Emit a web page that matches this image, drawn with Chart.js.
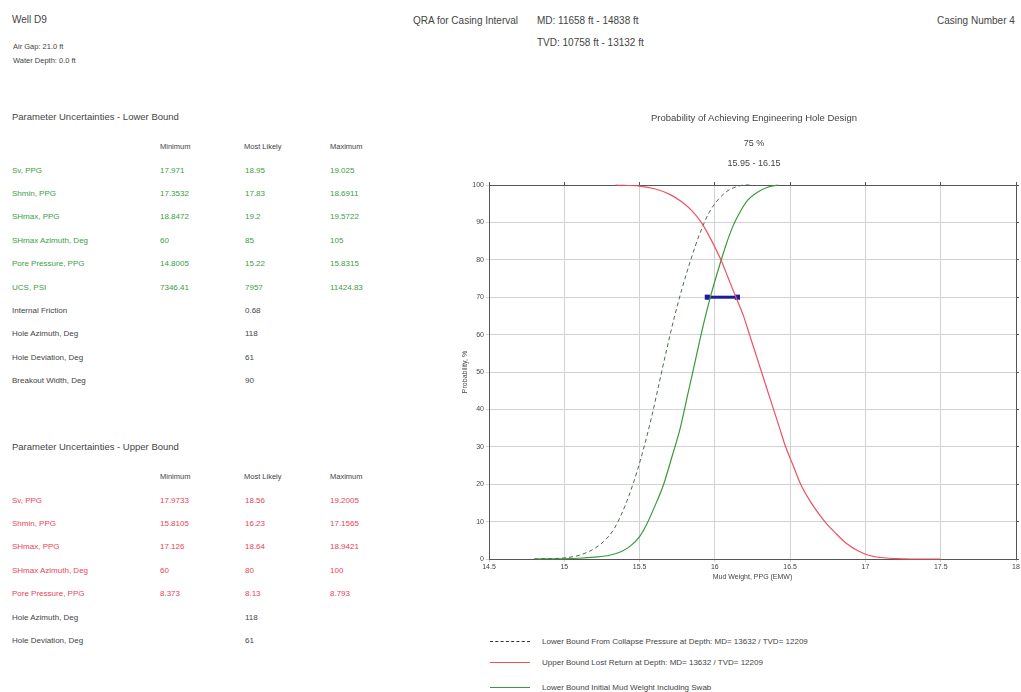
<!DOCTYPE html>
<html>
<head>
<meta charset="utf-8">
<script src="https://cdn.jsdelivr.net/npm/chart.js@4.4.1/dist/chart.umd.min.js"></script>
<style>
  html, body { margin: 0; padding: 0; background: #fff; }
  body { width: 1021px; height: 692px; position: relative; overflow: hidden; font-family: "Liberation Sans", Arial, sans-serif; color: #444; }
  .t { position: absolute; white-space: nowrap; line-height: 1; transform: translateY(-50%); }
  .c { transform: translate(-50%, -50%); }
  #wrap { position: absolute; left: 440px; top: 100px; }
  .lg { position: absolute; left: 490px; width: 40px; height: 0; }
</style>
</head>
<body>
<div id="wrap"><canvas id="chart" width="600" height="500"></canvas></div>
<div class="lg" style="top:641px;border-top:1px dashed #333"></div>
<div class="lg" style="top:662px;border-top:1.5px solid #f05050"></div>
<div class="lg" style="top:687px;border-top:1.5px solid #3a9a3a"></div>
<script>
// probability curves: mud weight (ppg) vs probability (%)
const collapseMW   = [14.8, 15.0, 15.1, 15.2, 15.27, 15.33, 15.38, 15.43, 15.48, 15.53, 15.58, 15.63, 15.68, 15.73, 15.78, 15.84, 15.9, 15.96, 16.02, 16.08, 16.14, 16.2, 16.25];
const collapseProb = [0, 0.3, 1, 2.8, 5, 8, 12, 17, 23, 30, 38, 47, 56, 64.5, 72, 80, 87, 92.5, 96, 98.3, 99.5, 100, 100];

const initialMW   = [14.8, 15.0, 15.1, 15.2, 15.3, 15.38, 15.44, 15.5, 15.55, 15.6, 15.66, 15.72, 15.77, 15.82, 15.87, 15.92, 15.97, 16.02, 16.07, 16.12, 16.17, 16.22, 16.28, 16.35, 16.42];
const initialProb = [0, 0.05, 0.2, 0.5, 1, 2, 3.5, 6, 9.5, 14, 20, 28, 35, 44, 53, 62, 70, 77, 83.5, 89, 93, 96, 98, 99.4, 100];

const upperMW   = [15.34, 15.5, 15.6, 15.7, 15.78, 15.85, 15.91, 15.98, 16.04, 16.09, 16.14, 16.19, 16.23, 16.27, 16.31, 16.35, 16.39, 16.43, 16.47, 16.52, 16.57, 16.64, 16.73, 16.8, 16.87, 16.95, 17.02, 17.1, 17.2, 17.3, 17.5];
const upperProb = [100, 99.7, 99, 97.5, 95.5, 93, 90, 85, 80, 75, 70, 65, 60, 55, 50, 45, 40, 35, 30, 25, 20, 15, 10, 7, 4.3, 2.2, 1, 0.4, 0.1, 0, 0];

const rangeMW   = [15.95, 16.15];
const rangeProb = [70, 70];

const xTicks = [14.5, 15, 15.5, 16, 16.5, 17, 17.5, 18];
const yTicks = [0, 10, 20, 30, 40, 50, 60, 70, 80, 90, 100];

const titleLines = ['Probability of Achieving Engineering Hole Design', '75 %', '15.95 - 16.15'];
const legendLabels = [
  'Lower Bound From Collapse Pressure at Depth: MD= 13632 / TVD= 12209',
  'Upper Bound Lost Return at Depth: MD= 13632 / TVD= 12209',
  'Lower Bound Initial Mud Weight Including Swab'
];

const lowerRows = [
  ['Sv, PPG', '17.971', '18.95', '19.025', 'g'],
  ['Shmin, PPG', '17.3532', '17.83', '18.6911', 'g'],
  ['SHmax, PPG', '18.8472', '19.2', '19.5722', 'g'],
  ['SHmax Azimuth, Deg', '60', '85', '105', 'g'],
  ['Pore Pressure, PPG', '14.8005', '15.22', '15.8315', 'g'],
  ['UCS, PSI', '7346.41', '7957', '11424.83', 'g'],
  ['Internal Friction', '', '0.68', '', 'k'],
  ['Hole Azimuth, Deg', '', '118', '', 'k'],
  ['Hole Deviation, Deg', '', '61', '', 'k'],
  ['Breakout Width, Deg', '', '90', '', 'k']
];
const upperRows = [
  ['Sv, PPG', '17.9733', '18.56', '19.2005', 'r'],
  ['Shmin, PPG', '15.8105', '16.23', '17.1565', 'r'],
  ['SHmax, PPG', '17.126', '18.64', '18.9421', 'r'],
  ['SHmax Azimuth, Deg', '60', '80', '100', 'r'],
  ['Pore Pressure, PPG', '8.373', '8.13', '8.793', 'r'],
  ['Hole Azimuth, Deg', '', '118', '', 'k'],
  ['Hole Deviation, Deg', '', '61', '', 'k']
];

const colours = { g: '#3a9e44', r: '#ec3f58', k: '#444' };

function put(text, x, y, size, color, centred) {
  const d = document.createElement('div');
  d.className = centred ? 't c' : 't';
  d.textContent = text;
  d.style.left = x + 'px';
  d.style.top = y + 'px';
  d.style.fontSize = size + 'px';
  if (color) d.style.color = color;
  document.body.appendChild(d);
}

// page header
put('Well D9', 12, 20, 10);
put('Air Gap: 21.0 ft', 13, 47, 7.5);
put('Water Depth: 0.0 ft', 13, 61, 7.5);
put('QRA for Casing Interval', 413, 21, 10);
put('MD: 11658 ft - 14838 ft', 537, 21, 10);
put('TVD: 10758 ft - 13132 ft', 537, 43, 10);
put('Casing Number 4', 937, 21, 10);

function table(title, rows, top) {
  put(title, 12, top, 9.5);
  put('Minimum', 160, top + 30, 7.5);
  put('Most Likely', 244, top + 30, 7.5);
  put('Maximum', 330, top + 30, 7.5);
  rows.forEach((r, i) => {
    const y = top + 53.5 + i * 23.4;
    const col = colours[r[4]];
    put(r[0], 12, y, 8, col);
    put(r[1], 160, y, 8, col);
    put(r[2], 245, y, 8, col);
    put(r[3], 330, y, 8, col);
  });
}
table('Parameter Uncertainties - Lower Bound', lowerRows, 117);
table('Parameter Uncertainties - Upper Bound', upperRows, 447);

titleLines.forEach((s, i) => put(s, 754, [118, 143, 163][i], i === 0 ? 9.5 : 9, null, true));
legendLabels.forEach((s, i) => put(s, 542, [642, 663, 688][i], 8));

const pts = (xs, ys) => xs.map((x, i) => ({ x: x, y: ys[i] }));
const gridCol = '#d2d2d2';
const tickFont = { family: '"Liberation Sans", Arial, sans-serif', size: 7 };

new Chart(document.getElementById('chart'), {
  type: 'line',
  data: {
    datasets: [
      { label: legendLabels[1], data: pts(upperMW, upperProb), borderColor: '#f05060', borderWidth: 1.2, pointRadius: 0, cubicInterpolationMode: 'monotone', clip: 4 },
      { label: legendLabels[0], data: pts(collapseMW, collapseProb), borderColor: '#4c6a4c', borderWidth: 1, borderDash: [4, 3], pointRadius: 0, cubicInterpolationMode: 'monotone', clip: 4 },
      { label: legendLabels[2], data: pts(initialMW, initialProb), borderColor: '#3a9a3a', borderWidth: 1.2, pointRadius: 0, cubicInterpolationMode: 'monotone', clip: 4 },
      { label: 'Range', data: pts(rangeMW, rangeProb), borderColor: '#1c1c9c', backgroundColor: '#1c1c9c', borderWidth: 3, pointRadius: 1.5, pointStyle: 'rect', clip: 4 }
    ]
  },
  options: {
    responsive: false,
    animation: false,
    layout: { padding: { left: 17, top: 82, right: 21, bottom: 15 } },
    plugins: { legend: { display: false }, tooltip: { enabled: false } },
    scales: {
      x: {
        type: 'linear', position: 'bottom', min: 14.5, max: 18,
        afterBuildTicks: s => { s.ticks = xTicks.map(v => ({ value: v })); },
        afterFit: s => { s.height = 26; },
        ticks: { font: tickFont, color: '#444', padding: 1, maxRotation: 0, autoSkip: false, callback: v => String(v) },
        grid: { color: gridCol, tickLength: 3 },
        border: { color: '#555' },
        title: { display: true, text: 'Mud Weight, PPG (EMW)', font: tickFont, color: '#444', padding: { top: 1, bottom: 4 } }
      },
      xTop: {
        type: 'linear', position: 'top', min: 14.5, max: 18,
        afterBuildTicks: s => { s.ticks = xTicks.map(v => ({ value: v })); },
        ticks: { display: false },
        grid: { drawOnChartArea: false, tickLength: 3, color: '#555' },
        border: { color: '#555' }
      },
      y: {
        min: 0, max: 100,
        afterBuildTicks: s => { s.ticks = yTicks.map(v => ({ value: v })); },
        afterFit: s => { s.width = 32; },
        ticks: { font: tickFont, color: '#444', padding: 2 },
        grid: { color: gridCol, tickLength: 3 },
        border: { color: '#555' },
        title: { display: true, text: 'Probability, %', font: tickFont, color: '#444', padding: { top: 4, bottom: 2 } }
      },
      yRight: {
        position: 'right', min: 0, max: 100,
        afterBuildTicks: s => { s.ticks = yTicks.map(v => ({ value: v })); },
        ticks: { display: false },
        grid: { drawOnChartArea: false, tickLength: 3, color: '#555' },
        border: { color: '#555' }
      }
    }
  }
});
</script>
</body>
</html>
